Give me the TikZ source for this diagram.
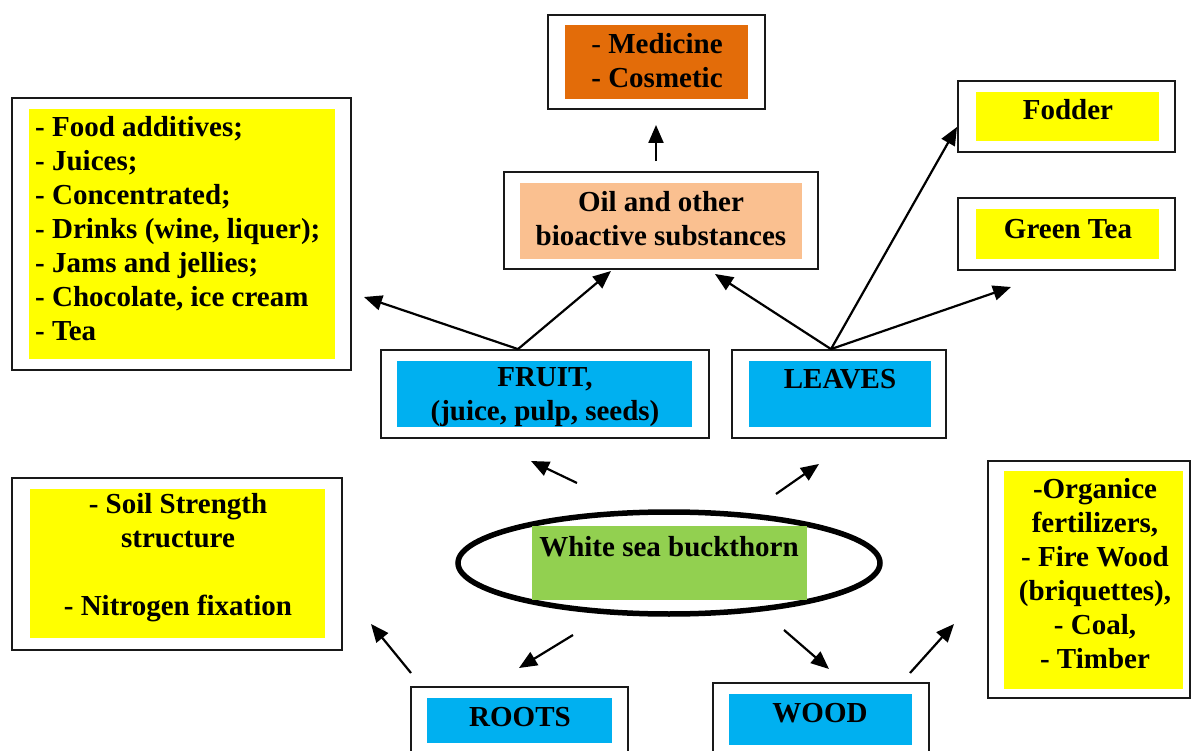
\documentclass[tikz,border=0pt]{standalone}
\usepackage{fontspec}
\setmainfont{Liberation Serif}
\usetikzlibrary{arrows.meta,shapes.geometric,calc}
\definecolor{cyel}{HTML}{FFFF00}
\definecolor{cblue}{HTML}{00B0F0}
\definecolor{corange}{HTML}{E36C09}
\definecolor{cpeach}{HTML}{FAC090}
\definecolor{cgreen}{HTML}{92D050}
\begin{document}
\begin{tikzpicture}[x=1pt,y=-1pt,
  outer/.style 2 args={draw=black!90, line width=1.8pt, minimum width=#1, minimum height=#2, inner sep=0pt},
  inner/.style n args={3}{fill=#1, minimum width=#2, minimum height=#3, inner sep=0pt},
  txt/.style={inner sep=0pt, font=\bfseries\fontsize{29}{34}\selectfont, align=center},
  arr/.style={line width=2.2pt, -{Triangle[length=18pt,width=15pt]}}]
\useasboundingbox (0,0) rectangle (1192,751);
\clip (0,0) rectangle (1192,751);
\fill[white] (0,0) rectangle (1192,751);

% Medicine
\node[outer={217pt}{94pt}] (medO) at (656.5,62) {};
\node[inner={corange}{183pt}{74pt}] (medI) at (656.5,62) {};
\node[txt] (medT) at (657,60.5) {{\mdseries -} Medicine\\- Cosmetic};

% Oil
\node[outer={314pt}{97pt}] (oilO) at (661,220.5) {};
\node[inner={cpeach}{282pt}{76pt}] (oilI) at (661,221) {};
\node[txt] (oilT) at (661,218.5) {Oil and other\\bioactive substances};

% Food
\node[outer={339pt}{272pt}] (foodO) at (181.5,234) {};
\node[inner={cyel}{306pt}{250pt}] (foodI) at (182,234) {};
\node[txt, align=left, anchor=west] (foodT) at (35,229) {- Food additives;\\- Juices;\\- Concentrated;\\- Drinks (wine, liquer);\\- Jams and jellies;\\- Chocolate, ice cream\\- Tea};

% Fodder
\node[outer={217pt}{71pt}] (fodO) at (1066.5,116.5) {};
\node[inner={cyel}{183pt}{49pt}] (fodI) at (1067.5,116.5) {};
\node[txt] (fodT) at (1068,110) {Fodder};

% Green tea
\node[outer={217pt}{72pt}] (teaO) at (1066.5,234) {};
\node[inner={cyel}{183pt}{50pt}] (teaI) at (1067.5,234) {};
\node[txt] (teaT) at (1068,229) {Green Tea};

% Fruit
\node[outer={328pt}{88pt}] (fruitO) at (545,394) {};
\node[inner={cblue}{295pt}{66pt}] (fruitI) at (544.5,394) {};
\node[txt] (fruitT) at (545,397) {FRUIT,\\(juice, pulp, seeds)};

% Leaves
\node[outer={214pt}{88pt}] (leavesO) at (839,394) {};
\node[inner={cblue}{182pt}{66pt}] (leavesI) at (840,394) {};
\node[txt] (leavesT) at (840,379) {LEAVES};

% Centre
\node[ellipse, draw, line width=5.5pt, minimum width=422pt, minimum height=102pt, inner sep=0pt] (plant) at (669,563) {};
\node[inner={cgreen}{275pt}{74pt}] (plantI) at (669.5,563) {};
\node[txt] (plantT) at (669,547) {White sea buckthorn};

% Soil
\node[outer={330pt}{172pt}] (soilO) at (177,564) {};
\node[inner={cyel}{295pt}{149pt}] (soilI) at (177.5,563.5) {};
\node[txt] (soilT) at (178,558) {- Soil Strength\\structure\\[34pt]- Nitrogen fixation};

% Right products
\node[outer={202pt}{237pt}] (woodpO) at (1089,579.5) {};
\node[inner={cyel}{179pt}{218pt}] (woodpI) at (1093.5,580) {};
\node[txt] (woodpT) at (1095,574) {-Organice\\fertilizers,\\- Fire Wood\\(briquettes),\\- Coal,\\- Timber};

% Roots
\node[outer={217pt}{93pt}] (rootsO) at (519.5,733.5) {};
\node[inner={cblue}{185pt}{45pt}] (rootsI) at (519.5,720.5) {};
\node[txt] (rootsT) at (520,717) {ROOTS};

% Wood
\node[outer={216pt}{97pt}] (woodO) at (821,731.5) {};
\node[inner={cblue}{183pt}{51pt}] (woodI) at (820.5,719.5) {};
\node[txt] (woodT) at (820,713) {WOOD};

% connector end points
\coordinate (fruitTop) at ($(fruitO.north)+(-27,0)$);
\coordinate (leavesTop) at ($(leavesO.north)+(-8,0)$);
\coordinate (oilTop) at ($(oilO.north)+(-5,-10)$);
\coordinate (medTip) at (656,125);
\coordinate (foodTip) at (364,297);
\coordinate (oilTipL) at (611,271);
\coordinate (oilTipR) at (715,274);
\coordinate (fodTip) at (957,127);
\coordinate (teaTip) at (1011,287);
\coordinate (eFruitS) at (577,483);
\coordinate (eFruitT) at (531,461);
\coordinate (eLeavesS) at (776,494);
\coordinate (eLeavesT) at (819,464);
\coordinate (eRootsS) at (573,635);
\coordinate (eRootsT) at (519,668);
\coordinate (eWoodS) at (784,630);
\coordinate (eWoodT) at (829,669);
\coordinate (rootsS) at (411,673);
\coordinate (soilTip) at (371,624);
\coordinate (woodS) at (910,673);
\coordinate (woodpTip) at (954,624);

\draw[arr] (oilTop) -- (medTip);
\draw[arr] (fruitTop) -- (foodTip);
\draw[arr] (fruitTop) -- (oilTipL);
\draw[arr] (leavesTop) -- (oilTipR);
\draw[arr] (leavesTop) -- (fodTip);
\draw[arr] (leavesTop) -- (teaTip);
\draw[arr] (eFruitS) -- (eFruitT);
\draw[arr] (eLeavesS) -- (eLeavesT);
\draw[arr] (eRootsS) -- (eRootsT);
\draw[arr] (eWoodS) -- (eWoodT);
\draw[arr] (rootsS) -- (soilTip);
\draw[arr] (woodS) -- (woodpTip);
\end{tikzpicture}
\end{document}
